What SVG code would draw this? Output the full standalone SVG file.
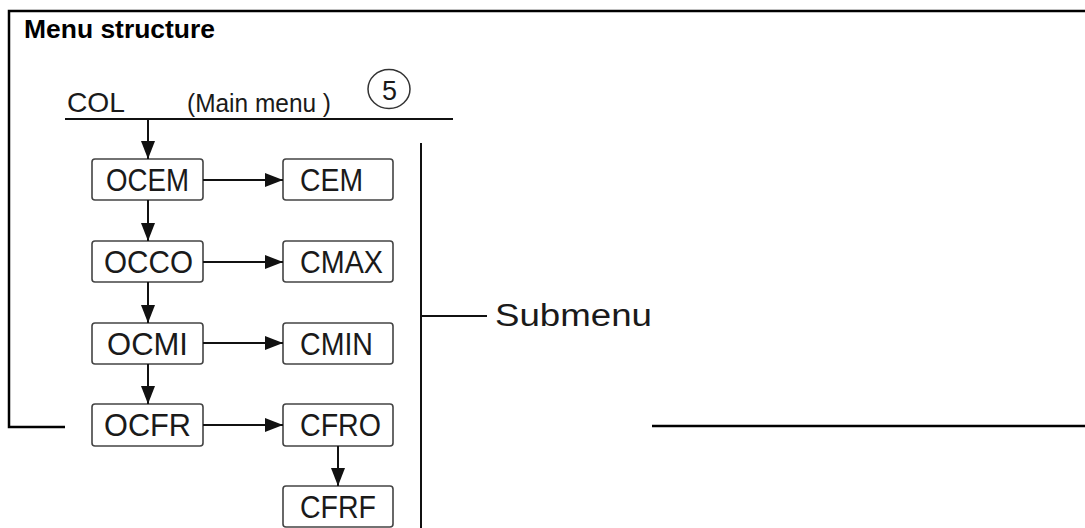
<svg xmlns="http://www.w3.org/2000/svg" width="1085" height="528" viewBox="0 0 1085 528">
<style>
.frame{fill:none;stroke:#000;stroke-width:2.5}
.box{fill:#fff;stroke:#444;stroke-width:1.6}
.lbl{font-family:"Liberation Sans",Arial,sans-serif;font-size:30.5px;fill:#1a1a1a}
.con{fill:none;stroke:#111;stroke-width:2}
.thin{fill:none;stroke:#111;stroke-width:1.8}
</style>
<defs>
<marker id="ah" markerUnits="userSpaceOnUse" markerWidth="18" markerHeight="14" refX="18" refY="7" orient="auto">
<path d="M0,0 L18,7 L0,14 z" fill="#111"/>
</marker>
</defs>
<rect width="1085" height="528" fill="#fff"/>
<g id="frame">
<path class="frame" d="M65,427 H9 V11 H1085"/>
<path class="frame" d="M652,426 H1085"/>
<text x="24" y="38" font-family="Liberation Sans,Arial,sans-serif" font-weight="bold" font-size="26.5" textLength="191" lengthAdjust="spacingAndGlyphs" fill="#000">Menu structure</text>
</g>
<g id="main-menu">
<text x="67" y="112" font-family="Liberation Sans,Arial,sans-serif" font-size="28" textLength="58" lengthAdjust="spacingAndGlyphs" fill="#1a1a1a">COL</text>
<text x="187" y="112" font-family="Liberation Sans,Arial,sans-serif" font-size="25" textLength="144" lengthAdjust="spacingAndGlyphs" fill="#1a1a1a">(Main menu )</text>
<ellipse cx="389" cy="89" rx="21" ry="19.5" fill="none" stroke="#333" stroke-width="1.5"/>
<text x="382" y="99.5" font-family="Liberation Sans,Arial,sans-serif" font-size="28" textLength="15" lengthAdjust="spacingAndGlyphs" fill="#1a1a1a">5</text>
<line class="con" x1="65" y1="119" x2="453" y2="119"/>
</g>
<g id="node-OCEM"><rect class="box" x="92" y="159" width="111" height="41" rx="3"/><text class="lbl" x="106" y="191" textLength="83" lengthAdjust="spacingAndGlyphs">OCEM</text></g>
<g id="node-CEM"><rect class="box" x="283" y="159" width="110" height="41" rx="3"/><text class="lbl" x="300" y="191" textLength="63" lengthAdjust="spacingAndGlyphs">CEM</text></g>
<g id="node-OCCO"><rect class="box" x="92" y="241" width="111" height="41" rx="3"/><text class="lbl" x="104" y="273" textLength="89" lengthAdjust="spacingAndGlyphs">OCCO</text></g>
<g id="node-CMAX"><rect class="box" x="283" y="241" width="110" height="41" rx="3"/><text class="lbl" x="300" y="273" textLength="83" lengthAdjust="spacingAndGlyphs">CMAX</text></g>
<g id="node-OCMI"><rect class="box" x="92" y="323" width="111" height="41" rx="3"/><text class="lbl" x="107" y="355" textLength="81" lengthAdjust="spacingAndGlyphs">OCMI</text></g>
<g id="node-CMIN"><rect class="box" x="283" y="323" width="110" height="41" rx="3"/><text class="lbl" x="300" y="355" textLength="73" lengthAdjust="spacingAndGlyphs">CMIN</text></g>
<g id="node-OCFR"><rect class="box" x="92" y="404" width="111" height="42" rx="3"/><text class="lbl" x="104" y="436" textLength="87" lengthAdjust="spacingAndGlyphs">OCFR</text></g>
<g id="node-CFRO"><rect class="box" x="283" y="404" width="110" height="42" rx="3"/><text class="lbl" x="300" y="436" textLength="81" lengthAdjust="spacingAndGlyphs">CFRO</text></g>
<g id="node-CFRF"><rect class="box" x="283" y="486" width="110" height="41" rx="3"/><text class="lbl" x="300" y="518" textLength="76" lengthAdjust="spacingAndGlyphs">CFRF</text></g>
<g id="submenu">
<line class="con" x1="421" y1="143" x2="421" y2="528"/>
<line class="thin" x1="421" y1="316" x2="487" y2="316"/>
<text x="495" y="326" font-family="Liberation Sans,Arial,sans-serif" font-size="31" textLength="157" lengthAdjust="spacingAndGlyphs" fill="#1a1a1a">Submenu</text>
</g>
<g id="connectors">
<line class="con" x1="148" y1="120" x2="148" y2="159" marker-end="url(#ah)"/>
<line class="con" x1="148" y1="200" x2="148" y2="241" marker-end="url(#ah)"/>
<line class="con" x1="148" y1="282" x2="148" y2="323" marker-end="url(#ah)"/>
<line class="con" x1="148" y1="364" x2="148" y2="404" marker-end="url(#ah)"/>
<line class="con" x1="203" y1="180" x2="283" y2="180" marker-end="url(#ah)"/>
<line class="con" x1="203" y1="262" x2="283" y2="262" marker-end="url(#ah)"/>
<line class="con" x1="203" y1="343" x2="283" y2="343" marker-end="url(#ah)"/>
<line class="con" x1="203" y1="425" x2="283" y2="425" marker-end="url(#ah)"/>
<line class="con" x1="338" y1="446" x2="338" y2="486" marker-end="url(#ah)"/>
</g>
</svg>
